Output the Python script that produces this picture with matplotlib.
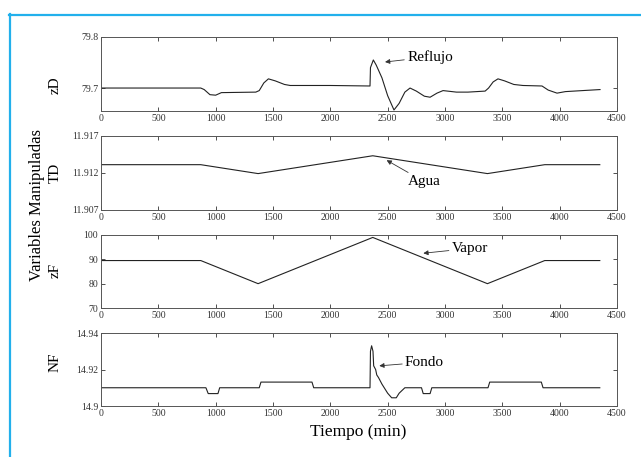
import matplotlib
matplotlib.use('Agg')
import matplotlib.pyplot as plt
from matplotlib.lines import Line2D

plt.rcParams['font.family'] = ['Liberation Serif', 'DejaVu Serif']

# datos
t_zd = [0, 870, 900, 950, 1000, 1050, 1350, 1380, 1420, 1460, 1520, 1600, 1650, 2000, 2346,
        2350, 2375, 2400, 2450, 2500, 2555, 2600, 2650, 2695, 2750, 2820, 2870, 2930, 2983,
        3100, 3200, 3350, 3380, 3420, 3462, 3520, 3600, 3680, 3846, 3900, 3977, 4050, 4200, 4352]
zd = [79.700, 79.700, 79.697, 79.687, 79.686, 79.691, 79.692, 79.695, 79.710, 79.718, 79.714,
      79.707, 79.705, 79.705, 79.704, 79.740, 79.755, 79.745, 79.720, 79.685, 79.657, 79.670,
      79.692, 79.700, 79.694, 79.684, 79.682, 79.690, 79.695, 79.692, 79.692, 79.694, 79.700,
      79.712, 79.718, 79.714, 79.707, 79.705, 79.704, 79.696, 79.690, 79.693, 79.695, 79.697]

t_ramp = [0, 870, 1370, 2370, 3370, 3870, 4350]
td = [11.9131, 11.9131, 11.9119, 11.9143, 11.9119, 11.9131, 11.9131]
zf = [89.5, 89.5, 80.0, 99.0, 80.0, 89.5, 89.5]

t_nf = [0, 915, 935, 1020, 1035, 1380, 1395, 1840, 1855, 2346, 2350, 2360, 2372, 2378, 2395,
        2405, 2420, 2450, 2500, 2535, 2575, 2600, 2650, 2795, 2810, 2870, 2885, 3375, 3390,
        3840, 3855, 4350]
nf = [14.910, 14.910, 14.9068, 14.9068, 14.910, 14.910, 14.9131, 14.9131, 14.910, 14.910,
      14.930, 14.933, 14.930, 14.922, 14.920, 14.917, 14.9156, 14.912, 14.907, 14.9045,
      14.9045, 14.907, 14.910, 14.910, 14.9068, 14.9068, 14.910, 14.910, 14.9131, 14.9131,
      14.910, 14.910]

fig = plt.figure(figsize=(6.41, 4.57), dpi=100)

# marco cian
fig.add_artist(Line2D([9.5/641, 9.5/641], [0, 1 - 14/457], transform=fig.transFigure,
                      color='#22B0EC', lw=1.6))
fig.add_artist(Line2D([9/641, 1], [1 - 14.5/457, 1 - 14.5/457], transform=fig.transFigure,
                      color='#22B0EC', lw=1.6))

left, width = 101/641, 516/641
panels = [
    (37, 111, t_zd, zd, (79.655, 79.8), [79.7, 79.8], ['79.7', '79.8'], 'zD', 0.35),
    (135.7, 210, t_ramp, td, (11.907, 11.917), [11.907, 11.912, 11.917],
     ['11.907', '11.912', '11.917'], 'TD', 0.50),
    (235, 308, t_ramp, zf, (70, 100), [70, 80, 90, 100], ['70', '80', '90', '100'], 'zF', 0.52),
    (333, 406, t_nf, nf, (14.9, 14.94), [14.9, 14.92, 14.94], ['14.9', '14.92', '14.94'],
     'NF', 0.60),
]

axs = []
for top, bot, x, y, ylim, yt, ytl, lab, ly in panels:
    ax = fig.add_axes([left, 1 - bot/457, width, (bot - top)/457])
    ax.plot(x, y, color='#222222', lw=0.8)
    ax.set_xlim(0, 4500)
    ax.set_ylim(*ylim)
    ax.set_xticks(range(0, 4501, 500))
    ax.set_yticks(yt)
    ax.set_yticklabels(ytl)
    ax.tick_params(direction='in', top=True, right=True, length=3, width=0.6,
                   labelsize=7, colors='#333333', pad=2)
    for s in ax.spines.values():
        s.set_color('#555555')
        s.set_linewidth(0.7)
    ax.set_ylabel(lab, fontsize=11, va='center')
    ax.yaxis.set_label_coords((55 - 101)/516, ly)
    axs.append(ax)

arr = dict(arrowstyle='-|>', color='#333333', lw=0.6, mutation_scale=7,
           shrinkA=0, shrinkB=0)
axs[0].annotate('Reflujo', xy=(2477, 79.751), xytext=(2669, 79.761), fontsize=11,
                va='center', arrowprops=arr)
axs[1].annotate('Agua', xy=(2491, 11.9137), xytext=(2677, 11.9108), fontsize=11,
                va='center', arrowprops=arr)
axs[2].annotate('Vapor', xy=(2811, 92.5), xytext=(3058, 94.5), fontsize=11,
                va='center', arrowprops=arr)
axs[3].annotate('Fondo', xy=(2427, 14.922), xytext=(2651, 14.924), fontsize=11,
                va='center', arrowprops=arr)

fig.text(37/641, 1 - 205/457, 'Variables Manipuladas', rotation=90, fontsize=12,
         ha='center', va='center')
fig.text(358/641, 1 - 432/457, 'Tiempo (min)', fontsize=12.5, ha='center', va='center')

fig.savefig('out.png', dpi=100)
